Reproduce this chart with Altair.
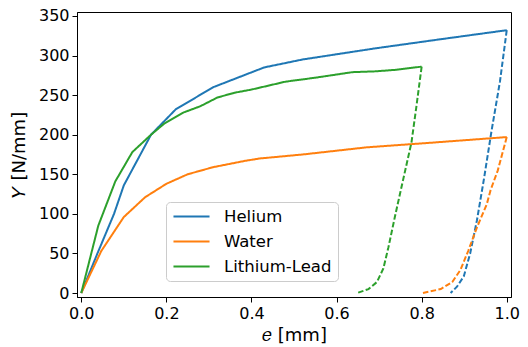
import altair as alt
import pandas as pd

# Loading curves (solid)
he_x = [0, 0.038, 0.077, 0.10, 0.164, 0.222, 0.31, 0.43, 0.52, 0.69, 0.85, 1.0]
he_y = [0, 50, 100, 136, 200, 232, 260, 285, 295, 309, 321, 332]
wa_x = [0, 0.047, 0.10, 0.15, 0.20, 0.25, 0.31, 0.385, 0.42, 0.52, 0.67, 0.80, 1.0]
wa_y = [0, 53, 96, 121, 138, 150, 159, 167, 170, 175, 184, 189, 197]
gr_x = [0, 0.04, 0.08, 0.12, 0.164, 0.195, 0.24, 0.28, 0.32, 0.36, 0.40, 0.48, 0.55, 0.637, 0.69, 0.74, 0.80]
gr_y = [0, 85, 141, 178, 200, 214, 228, 236, 247, 253, 257, 267, 272, 279, 280, 282, 286]

# Unloading curves (dashed)
he_d_x = [1.0, 0.984, 0.964, 0.947, 0.93, 0.914, 0.899, 0.883, 0.868]
he_d_y = [332, 267, 204, 146, 92, 50, 21, 8, 0]
wa_d_x = [1.0, 0.979, 0.962, 0.953, 0.93, 0.91, 0.891, 0.872, 0.845, 0.802]
wa_d_y = [197, 155, 130, 112, 83, 54, 29, 14, 5, 0]
gr_d_x = [0.80, 0.787, 0.776, 0.756, 0.737, 0.722, 0.71, 0.695, 0.675, 0.648]
gr_d_y = [286, 233, 190, 142, 96, 58, 31, 14, 5, 0]

series = ["Helium", "Water", "Lithium-Lead"]
colors = ["#1f77b4", "#ff7f0e", "#2ca02c"]
x_ticks = [0.0, 0.2, 0.4, 0.6, 0.8, 1.0]
y_ticks = [0, 50, 100, 150, 200, 250, 300, 350]

rows = []
for name, xs, ys, kind in [
    ("Helium", he_x, he_y, "solid"),
    ("Water", wa_x, wa_y, "solid"),
    ("Lithium-Lead", gr_x, gr_y, "solid"),
    ("Helium", he_d_x, he_d_y, "dashed"),
    ("Water", wa_d_x, wa_d_y, "dashed"),
    ("Lithium-Lead", gr_d_x, gr_d_y, "dashed"),
]:
    for i, (a, b) in enumerate(zip(xs, ys)):
        rows.append({"series": name, "kind": kind, "i": i, "e": a, "Y": b})
df = pd.DataFrame(rows)

chart = alt.Chart(df).mark_line(strokeWidth=2).encode(
    x=alt.X("e:Q", scale=alt.Scale(domain=[-0.01, 1.01], nice=False, zero=False),
            axis=alt.Axis(values=x_ticks, format=".1f", title="𝑒 [mm]", grid=False,
                          titlePadding=5)),
    y=alt.Y("Y:Q", scale=alt.Scale(domain=[-5, 355], nice=False, zero=False),
            axis=alt.Axis(values=y_ticks, title="𝑌 [N/mm]", grid=False, titlePadding=10)),
    color=alt.Color("series:N", scale=alt.Scale(domain=series, range=colors),
                    legend=alt.Legend(title=None, orient="none", legendX=89, legendY=190,
                                      symbolType="stroke", symbolSize=1300, symbolStrokeWidth=2,
                                      clipHeight=17,
                                      labelFontSize=16.5, labelOffset=13, rowPadding=8,
                                      padding=6, fillColor="white", strokeColor="#cccccc",
                                      cornerRadius=4, labelFont="DejaVu Sans", labelColor="black")),
    strokeDash=alt.StrokeDash("kind:N", scale=alt.Scale(domain=["solid", "dashed"],
                                                       range=[[1, 0], [5.5, 2.4]]), legend=None),
    detail="kind:N",
    order="i:Q",
).properties(
    width=434, height=285,
    autosize=alt.AutoSizeParams(type="none"),
    padding={"left": 69, "top": 4, "right": 9, "bottom": 50},
).configure_view(
    stroke="black", strokeWidth=1
).configure_axis(
    labelFont="DejaVu Sans", titleFont="DejaVu Sans", labelFontSize=16, titleFontSize=18,
    titleFontWeight="normal", labelColor="black", titleColor="black",
    tickColor="black", domainColor="black", tickSize=5, tickWidth=1, domainWidth=1,
    labelPadding=3,
)

chart.save("out.html", embed_options={"renderer": "svg", "actions": False})
